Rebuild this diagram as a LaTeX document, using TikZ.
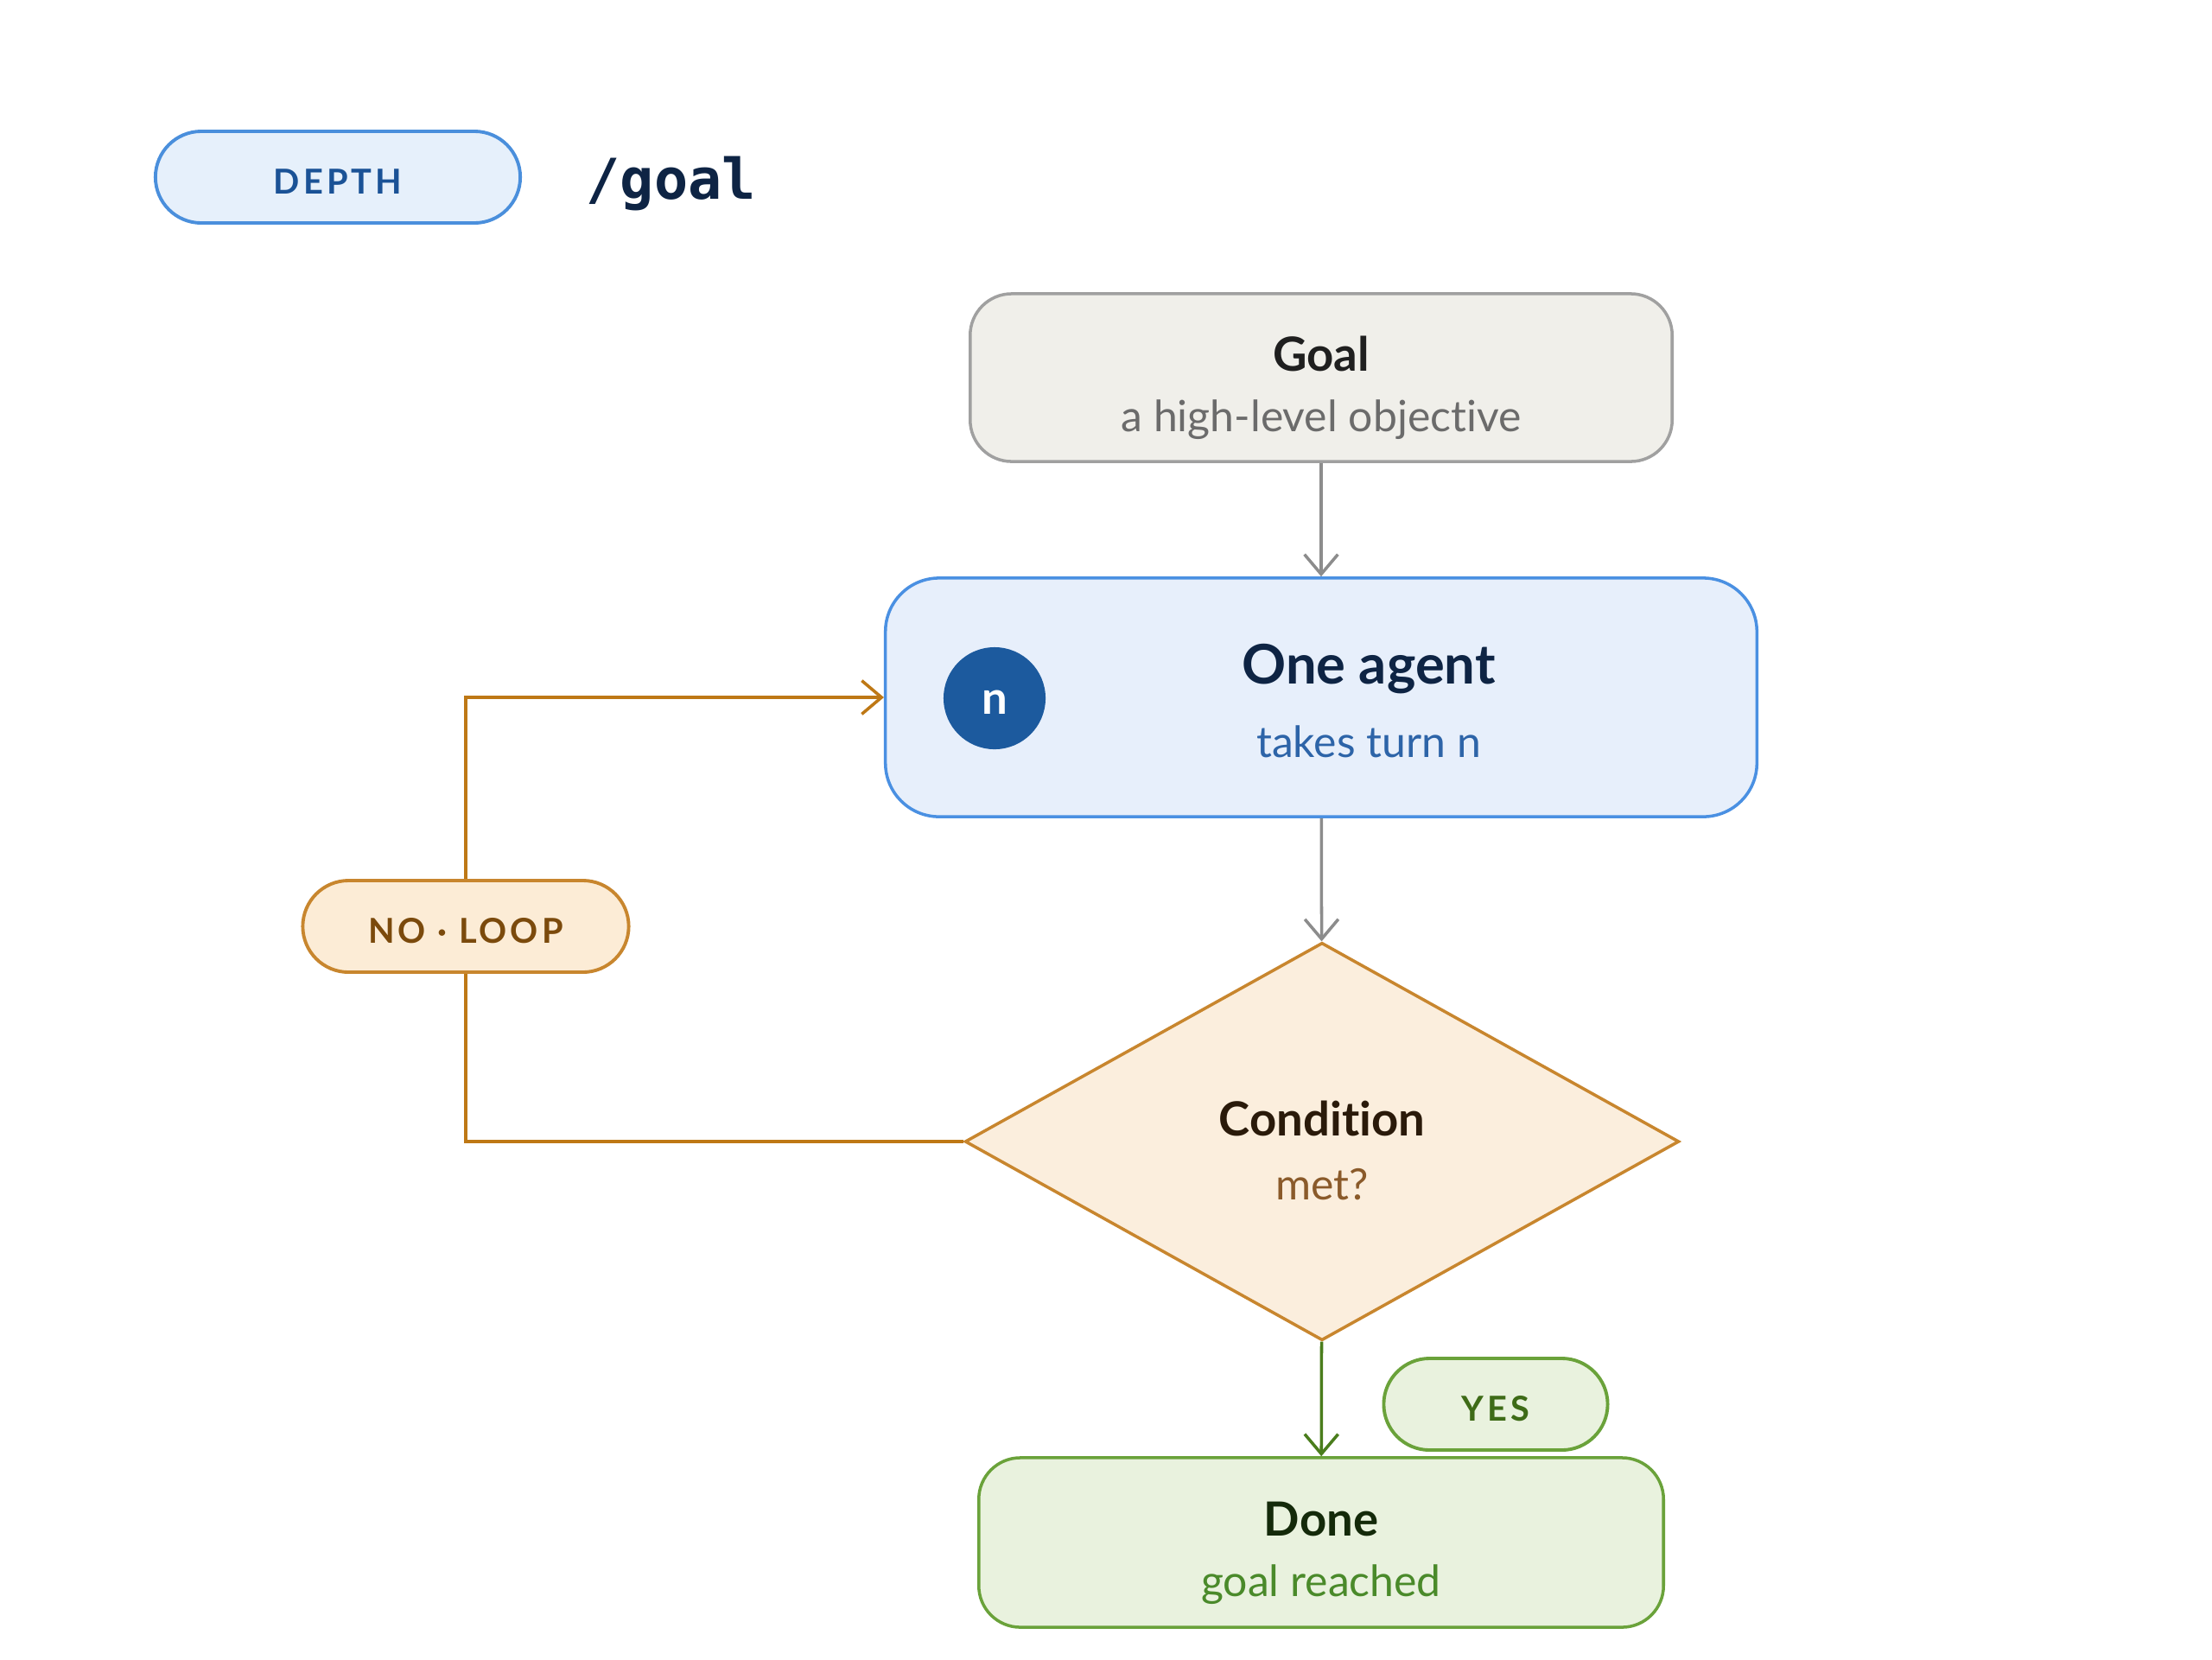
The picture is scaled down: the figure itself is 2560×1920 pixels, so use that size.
\documentclass[tikz,border=0pt]{standalone}
\usepackage{fontspec}
\setmainfont{Lato}[Ligatures=NoCommon]
\newfontfamily\monof{DejaVu Sans Mono}
\usetikzlibrary{arrows.meta,shapes.geometric}
\definecolor{depthfill}{HTML}{E6F0FB}
\definecolor{depthline}{HTML}{4A8FDC}
\definecolor{depthtext}{HTML}{1A5296}
\definecolor{navy}{HTML}{0E2444}
\definecolor{goalfill}{HTML}{F0EFEA}
\definecolor{goalline}{HTML}{A0A0A0}
\definecolor{goalsub}{HTML}{6B6B6B}
\definecolor{agentfill}{HTML}{E7EFFB}
\definecolor{agentline}{HTML}{4A90E2}
\definecolor{badge}{HTML}{1C5A9E}
\definecolor{agentsub}{HTML}{2D64A8}
\definecolor{condfill}{HTML}{FBEEDD}
\definecolor{condline}{HTML}{C8862E}
\definecolor{condtitle}{HTML}{2A1A0A}
\definecolor{condsub}{HTML}{8A5A2A}
\definecolor{loopline}{HTML}{BE7815}
\definecolor{loopfill}{HTML}{FCECD6}
\definecolor{looptext}{HTML}{7B4A0C}
\definecolor{grayarrow}{HTML}{8C8C8C}
\definecolor{greenarrow}{HTML}{4A7D1C}
\definecolor{donefill}{HTML}{E9F2DE}
\definecolor{doneline}{HTML}{6AA23A}
\definecolor{donetitle}{HTML}{142A0A}
\definecolor{donesub}{HTML}{4A8A2A}
\definecolor{yestext}{HTML}{3E6B17}
\begin{document}
\begin{tikzpicture}[x=0.01cm,y=-0.01cm,
  box/.style={draw, rounded corners=0.48cm, line width=1pt, inner sep=0pt},
  txt/.style={align=center, inner sep=0pt, font=\fontsize{14.2}{#1}\selectfont},
  pill/.style={draw, rounded corners=0.53cm, line width=1.1pt, minimum height=1.06cm, inner sep=0pt,
    text height=11.2pt, text depth=0pt,
    font=\fontsize{11.3}{13}\selectfont\bfseries\addfontfeature{LetterSpace=10}},
  arr/.style={line width=1pt, -{Straight Barb[length=6.5pt,width=11pt,line width=1pt]}},
]
\useasboundingbox[fill=white] (0,0) rectangle (2560,1920);

% header
\node[pill, fill=depthfill, draw=depthline, text=depthtext, minimum width=4.22cm] (depth) at (391,205) {DEPTH};
\node[anchor=base west, inner sep=0pt, text=navy, font=\monof\bfseries\fontsize{18.5}{22}\selectfont] (cmd) at (678,230) {/goal};

% goal
\node[box, fill=goalfill, draw=goalline, minimum width=8.12cm, minimum height=1.94cm] (goal) at (1529,437) {};
\node[txt=20pt] (goaltext) at (1529,449)
  {{\fontsize{15.5}{20}\selectfont\bfseries\color{black!88} Goal}\\{\color{goalsub}a high-level objective}};

% agent
\node[box, rounded corners=0.62cm, fill=agentfill, draw=agentline, minimum width=10.08cm, minimum height=2.76cm] (agent) at (1529,807) {};
\node[circle, fill=badge, minimum size=1.18cm, inner sep=0pt, text height=10.4pt, text depth=0pt, text=white, font=\fontsize{15}{18}\selectfont\bfseries] (badge) at (1151,808) {n};
\node[txt=24pt] (agenttext) at (1584,811)
  {{\fontsize{18}{24}\selectfont\bfseries\color{navy} One agent}\\{\color{agentsub}takes turn n}};

% condition
\node[diamond, draw=condline, fill=condfill, line width=1pt, minimum width=8.26cm, minimum height=4.6cm, inner sep=0pt] (cond) at (1530,1321) {};
\node[txt=21pt] (condtext) at (1530,1331)
  {{\fontsize{15.5}{21}\selectfont\bfseries\color{condtitle} Condition}\\{\color{condsub}met?}};

% loop label
\node[pill, fill=loopfill, draw=condline, text=looptext, minimum width=3.77cm] (loop) at (539,1072) {NO · LOOP};

% yes label
\node[pill, fill=donefill, draw=doneline, text=yestext, minimum width=2.59cm] (yes) at (1731,1625) {YES};

% done
\node[box, fill=donefill, draw=doneline, minimum width=7.92cm, minimum height=1.96cm] (done) at (1529,1785) {};
\node[txt=20pt] (donetext) at (1529,1797)
  {{\fontsize{15.5}{20}\selectfont\bfseries\color{donetitle} Done}\\{\color{donesub}goal reached}};

% connectors
\draw[arr, grayarrow] (goal) -- (agent);
\draw[arr, grayarrow] (agent) -- (cond);
\draw[arr, greenarrow] (cond) -- (done);
\draw[line width=1pt, loopline] (cond.west) -| (loop.south);
\draw[arr, loopline] (loop.north) |- (agent.west);
\end{tikzpicture}
\end{document}
